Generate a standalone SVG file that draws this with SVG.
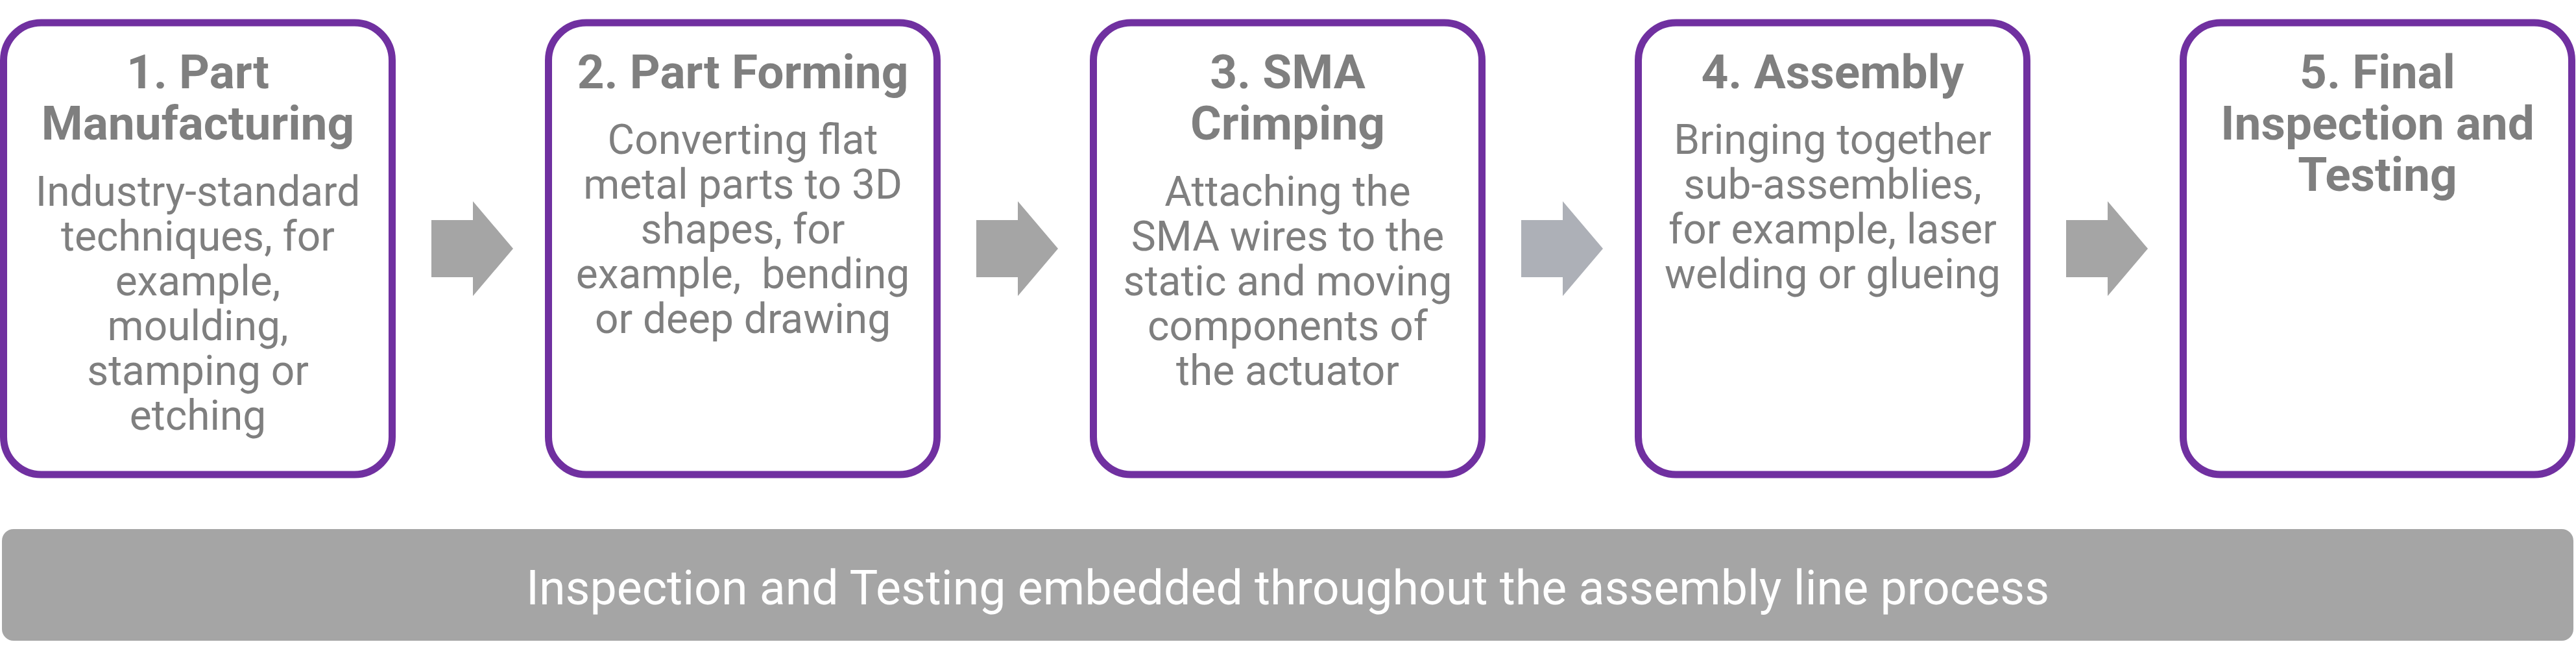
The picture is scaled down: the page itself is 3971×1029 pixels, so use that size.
<svg xmlns="http://www.w3.org/2000/svg" width="3971" height="1029" viewBox="0 0 3971 1029">
  <style>
    .box { fill: #FFFFFF; stroke: #7030A0; stroke-width: 11; }
    .title { font-family: Roboto, "Liberation Sans", sans-serif; font-weight: 700; font-size: 73px; fill: #7F7F7F; text-anchor: middle; }
    .body { font-family: Roboto, "Liberation Sans", sans-serif; font-weight: 400; font-size: 64px; fill: #7F7F7F; text-anchor: middle; }
    .arrow { fill: #A5A5A5; }
    .arrow-alt { fill: #ADB0B7; }
    .bar { fill: #A5A5A5; }
    .bartext { font-family: Roboto, "Liberation Sans", sans-serif; font-weight: 400; font-size: 73.5px; fill: #FFFFFF; text-anchor: middle; }
  </style>
  <rect width="3971" height="1029" fill="#FFFFFF"/>

  <g id="node-1">
    <rect class="box" x="5.5" y="35" width="599" height="696" rx="58" ry="58"/>
    <text class="title" x="305" y="136">1. Part</text>
    <text class="title" x="305" y="214.5">Manufacturing</text>
    <text class="body" x="305" y="317">Industry-standard</text>
    <text class="body" x="305" y="386">techniques, for</text>
    <text class="body" x="305" y="455">example,</text>
    <text class="body" x="305" y="524">moulding,</text>
    <text class="body" x="305" y="593">stamping or</text>
    <text class="body" x="305" y="662">etching</text>
  </g>

  <g id="node-2">
    <rect class="box" x="845.5" y="35" width="599" height="696" rx="58" ry="58"/>
    <text class="title" x="1145" y="136">2. Part Forming</text>
    <text class="body" x="1145" y="237">Converting flat</text>
    <text class="body" x="1145" y="306">metal parts to 3D</text>
    <text class="body" x="1145" y="375">shapes, for</text>
    <text class="body" x="1145" y="444" xml:space="preserve">example,  bending</text>
    <text class="body" x="1145" y="513">or deep drawing</text>
  </g>

  <g id="node-3">
    <rect class="box" x="1685.5" y="35" width="599" height="696" rx="58" ry="58"/>
    <text class="title" x="1985" y="136">3. SMA</text>
    <text class="title" x="1985" y="214.5">Crimping</text>
    <text class="body" x="1985" y="317">Attaching the</text>
    <text class="body" x="1985" y="386">SMA wires to the</text>
    <text class="body" x="1985" y="455">static and moving</text>
    <text class="body" x="1985" y="524">components of</text>
    <text class="body" x="1985" y="593">the actuator</text>
  </g>

  <g id="node-4">
    <rect class="box" x="2525.5" y="35" width="599" height="696" rx="58" ry="58"/>
    <text class="title" x="2825" y="136">4. Assembly</text>
    <text class="body" x="2825" y="237">Bringing together</text>
    <text class="body" x="2825" y="306">sub-assemblies,</text>
    <text class="body" x="2825" y="375">for example, laser</text>
    <text class="body" x="2825" y="444">welding or glueing</text>
  </g>

  <g id="node-5">
    <rect class="box" x="3365.5" y="35" width="599" height="696" rx="58" ry="58"/>
    <text class="title" x="3665" y="136">5. Final</text>
    <text class="title" x="3665" y="214.5">Inspection and</text>
    <text class="title" x="3665" y="293.5">Testing</text>
  </g>

  <g id="connectors">
    <polygon class="arrow" points="665,339 729,339 729,310 791,383 729,456 729,427 665,427"/>
    <polygon class="arrow" points="1505,339 1569,339 1569,310 1631,383 1569,456 1569,427 1505,427"/>
    <polygon class="arrow-alt" points="2345,339 2409,339 2409,310 2471,383 2409,456 2409,427 2345,427"/>
    <polygon class="arrow" points="3185,339 3249,339 3249,310 3311,383 3249,456 3249,427 3185,427"/>
  </g>

  <g id="bar">
    <rect class="bar" x="3" y="815" width="3964" height="172" rx="18" ry="18"/>
    <text class="bartext" x="1985" y="931">Inspection and Testing embedded throughout the assembly line process</text>
  </g>
</svg>
